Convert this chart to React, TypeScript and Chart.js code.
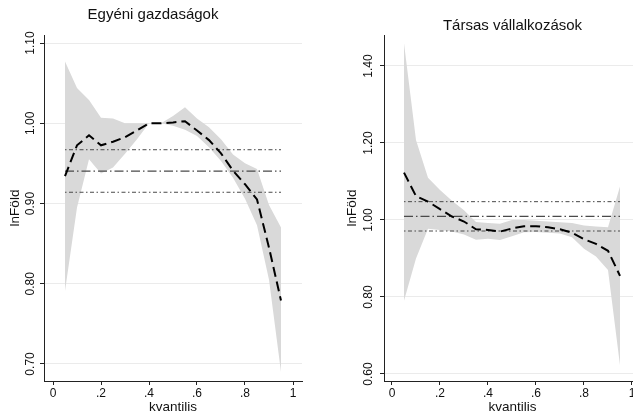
import React, { useEffect, useRef } from "react";
import { Chart, registerables } from "chart.js";

Chart.register(...registerables);
Chart.defaults.font.family = "'Liberation Sans', Arial, Helvetica, sans-serif";
Chart.defaults.color = "#111";

// ---- shared data ----
const QUANTILES = [0.05, 0.1, 0.15, 0.2, 0.25, 0.3, 0.35, 0.4, 0.45, 0.5, 0.55, 0.6, 0.65, 0.7, 0.75, 0.8, 0.85, 0.9, 0.95];
const X_TICKS = [0, 0.2, 0.4, 0.6, 0.8, 1];
const OLS_SPAN = [0.05, 0.95];
const X_TITLE = "kvantilis";
const Y_TITLE = "lnFöld";

// ---- Egyéni gazdaságok ----
const EGY_TITLE = "Egyéni gazdaságok";
const EGY_EST = [0.934, 0.9725, 0.985, 0.9725, 0.977, 0.9825, 0.991, 1.0, 1.0, 1.001, 1.0025, 0.991, 0.979, 0.9625, 0.941, 0.924, 0.905, 0.845, 0.779];
const EGY_UPPER = [1.077, 1.044, 1.029, 1.007, 1.006, 1.0, 1.0, 1.0, 1.0, 1.009, 1.02, 1.006, 0.995, 0.98, 0.961, 0.95, 0.943, 0.898, 0.87];
const EGY_LOWER = [0.791, 0.895, 0.955, 0.9375, 0.945, 0.962, 0.98, 1.0, 1.0, 0.997, 0.992, 0.984, 0.97, 0.953, 0.932, 0.906, 0.873, 0.805, 0.69];
const EGY_OLS = [0.9404];
const EGY_OLS_HI = [0.967];
const EGY_OLS_LO = [0.914];
const EGY_Y_TICKS = [0.7, 0.8, 0.9, 1.0, 1.1];

// ---- Társas vállalkozások ----
const TAR_TITLE = "Társas vállalkozások";
const TAR_EST = [1.123, 1.062, 1.048, 1.028, 1.009, 0.996, 0.976, 0.974, 0.97, 0.978, 0.984, 0.984, 0.981, 0.976, 0.967, 0.95, 0.938, 0.92, 0.855];
const TAR_UPPER = [1.459, 1.208, 1.11, 1.078, 1.05, 1.025, 0.995, 0.992, 0.99, 1.0, 1.0, 0.998, 0.996, 0.994, 0.992, 0.986, 0.983, 0.981, 1.087];
const TAR_LOWER = [0.79, 0.9, 0.977, 0.974, 0.97, 0.962, 0.949, 0.951, 0.948, 0.958, 0.968, 0.969, 0.967, 0.965, 0.955, 0.925, 0.905, 0.87, 0.623];
const TAR_OLS = [1.0095];
const TAR_OLS_HI = [1.0476];
const TAR_OLS_LO = [0.9714];
const TAR_Y_TICKS = [0.6, 0.8, 1.0, 1.2, 1.4];

type PanelOpts = {
  title: string;
  est: number[];
  upper: number[];
  lower: number[];
  ols: number[];
  olsHi: number[];
  olsLo: number[];
  yTicks: number[];
  yMin: number;
  yMax: number;
  xMin: number;
  xMax: number;
  padLeft: number;
  padRight: number;
  yAxisWidth: number;
  titleFull: boolean;
  titlePadTop: number;
  titlePadBottom: number;
  yTickPad: number;
  yTitlePad: number;
};

const pts = (ys: number[]) => QUANTILES.map((q, i) => ({ x: q, y: ys[i] }));
const hline = (v: number[]) => OLS_SPAN.map((x) => ({ x, y: v[0] }));

const fmtX = (v: number) => (Number.isInteger(v) ? String(v) : v.toFixed(1).replace(/^0/, ""));

function buildConfig(p: PanelOpts): any {
  return {
    type: "line",
    data: {
      datasets: [
        {
          data: pts(p.est),
          borderColor: "#000",
          borderWidth: 2,
          borderDash: [10, 5],
          pointRadius: 0,
          fill: false,
          order: 0,
        },
        {
          data: hline(p.ols),
          borderColor: "#4a4a4a",
          borderWidth: 1.2,
          borderDash: [9, 3, 1.5, 3],
          pointRadius: 0,
          fill: false,
          order: 1,
        },
        {
          data: hline(p.olsHi),
          borderColor: "#4a4a4a",
          borderWidth: 1,
          borderDash: [1.5, 2.5, 4, 2.5],
          pointRadius: 0,
          fill: false,
          order: 1,
        },
        {
          data: hline(p.olsLo),
          borderColor: "#4a4a4a",
          borderWidth: 1,
          borderDash: [1.5, 2.5, 4, 2.5],
          pointRadius: 0,
          fill: false,
          order: 1,
        },
        {
          data: pts(p.upper),
          borderColor: "rgba(0,0,0,0)",
          borderWidth: 0,
          backgroundColor: "#d9d9d9",
          pointRadius: 0,
          fill: "+1",
          order: 2,
        },
        {
          data: pts(p.lower),
          borderColor: "rgba(0,0,0,0)",
          borderWidth: 0,
          pointRadius: 0,
          fill: false,
          order: 2,
        },
      ],
    },
    options: {
      animation: false,
      responsive: false,
      events: [],
      layout: { padding: { left: p.padLeft, right: p.padRight, top: 0, bottom: 0 } },
      plugins: {
        legend: { display: false },
        tooltip: { enabled: false },
        title: {
          display: true,
          text: p.title,
          fullSize: p.titleFull,
          color: "#111",
          font: { size: 15, weight: "normal" },
          padding: { top: p.titlePadTop, bottom: p.titlePadBottom },
        },
      },
      scales: {
        x: {
          type: "linear",
          min: p.xMin,
          max: p.xMax,
          afterBuildTicks: (s: any) => {
            s.ticks = X_TICKS.map((v) => ({ value: v }));
          },
          afterFit: (s: any) => {
            s.height = 34;
          },
          ticks: {
            callback: (v: any) => fmtX(Number(v)),
            font: { size: 12 },
            padding: 1.5,
            maxRotation: 0,
            autoSkip: false,
            color: "#111",
          },
          grid: { drawOnChartArea: false, drawTicks: true, tickLength: 4, tickColor: "#222", tickWidth: 1 },
          border: { display: true, color: "#222", width: 1 },
          title: { display: true, text: X_TITLE, font: { size: 13.5 }, padding: { top: 0, bottom: 0 }, color: "#111" },
        },
        y: {
          type: "linear",
          min: p.yMin,
          max: p.yMax,
          afterBuildTicks: (s: any) => {
            s.ticks = p.yTicks.map((v) => ({ value: v }));
          },
          afterFit: (s: any) => {
            s.width = p.yAxisWidth;
          },
          ticks: {
            callback: (v: any) => Number(v).toFixed(2),
            font: { size: 12 },
            minRotation: 90,
            maxRotation: 90,
            crossAlign: "center",
            padding: p.yTickPad,
            autoSkip: false,
            color: "#111",
          },
          grid: { color: "#ebebeb", lineWidth: 1, drawTicks: true, tickLength: 4, tickColor: "#222", tickWidth: 1 },
          border: { display: true, color: "#222", width: 1 },
          title: { display: true, text: Y_TITLE, font: { size: 13.5 }, padding: { top: p.yTitlePad, bottom: 0 }, color: "#111" },
        },
      },
    },
  };
}

function Panel({ opts, left, width }: { opts: PanelOpts; left: number; width: number }) {
  const ref = useRef<HTMLCanvasElement>(null);
  useEffect(() => {
    const chart = new Chart(ref.current as HTMLCanvasElement, buildConfig(opts));
    return () => chart.destroy();
  }, []);
  return (
    <canvas
      ref={ref}
      width={width}
      height={415}
      style={{ position: "absolute", left, top: 0, width, height: 415, display: "block" }}
    />
  );
}

const LEFT_PANEL: PanelOpts = {
  title: EGY_TITLE,
  est: EGY_EST,
  upper: EGY_UPPER,
  lower: EGY_LOWER,
  ols: EGY_OLS,
  olsHi: EGY_OLS_HI,
  olsLo: EGY_OLS_LO,
  yTicks: EGY_Y_TICKS,
  yMin: 0.67875,
  yMax: 1.11,
  xMin: -0.0375,
  xMax: 1.0375,
  padLeft: 4,
  padRight: 18,
  yAxisWidth: 40,
  titleFull: true,
  titlePadTop: 6,
  titlePadBottom: 11,
  yTickPad: -2,
  yTitlePad: 3,
};

const RIGHT_PANEL: PanelOpts = {
  title: TAR_TITLE,
  est: TAR_EST,
  upper: TAR_UPPER,
  lower: TAR_LOWER,
  ols: TAR_OLS,
  olsHi: TAR_OLS_HI,
  olsLo: TAR_OLS_LO,
  yTicks: TAR_Y_TICKS,
  yMin: 0.5818,
  yMax: 1.4805,
  xMin: -0.0333,
  xMax: 1.0375,
  padLeft: 21.5,
  padRight: 19,
  yAxisWidth: 42.5,
  titleFull: false,
  titlePadTop: 16.7,
  titlePadBottom: 0.3,
  yTickPad: -0.5,
  yTitlePad: 3,
};

export default function App() {
  return (
    <div
      style={{
        position: "absolute",
        left: 0,
        top: 0,
        width: 633,
        height: 415,
        overflow: "hidden",
        background: "#fff",
      }}
    >
      <Panel opts={LEFT_PANEL} left={0} width={320} />
      <Panel opts={RIGHT_PANEL} left={320} width={340} />
    </div>
  );
}
